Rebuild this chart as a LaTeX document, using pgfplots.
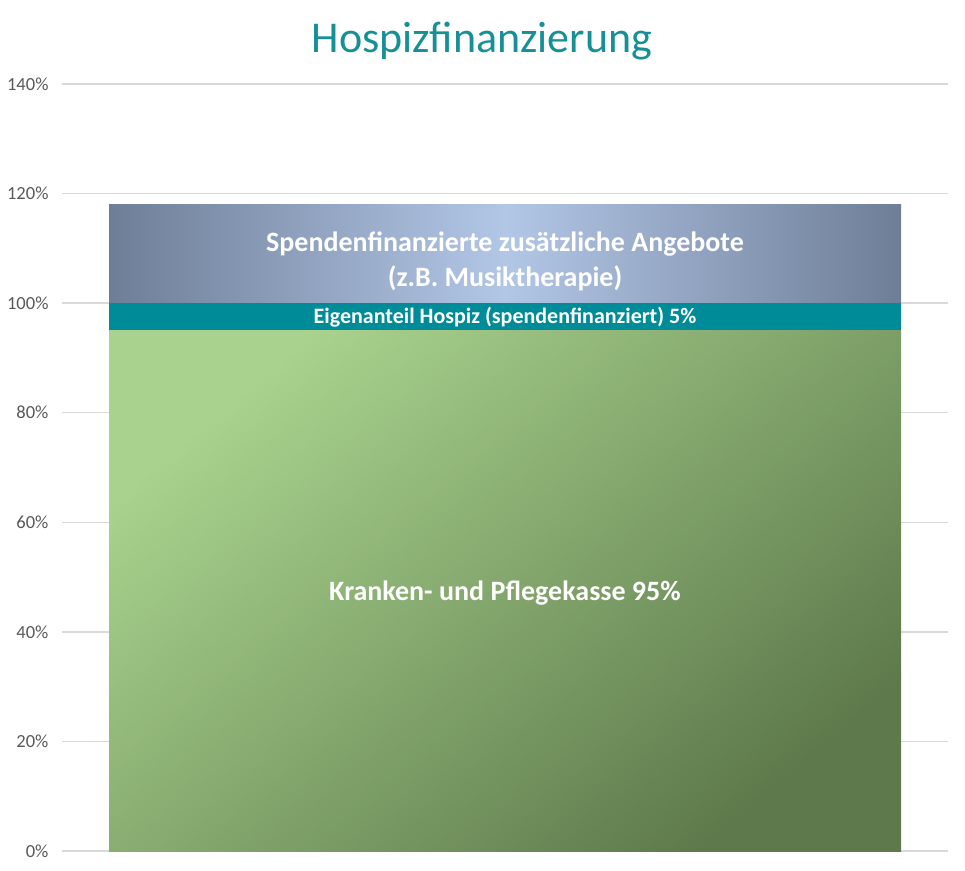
\documentclass[border=0pt]{standalone}
\usepackage{pgfplots}
\pgfplotsset{compat=1.18}
\usepackage{fontspec}
\setmainfont{Carlito}

\definecolor{titleteal}{RGB}{22,144,150}
\definecolor{gridgray}{RGB}{217,217,217}
\definecolor{ticktext}{RGB}{89,89,89}
\definecolor{greenlight}{RGB}{168,210,141}
\definecolor{greendark}{RGB}{94,122,76}
\definecolor{tealbar}{RGB}{0,139,152}
\definecolor{blueedge}{RGB}{110,126,151}
\definecolor{bluemid}{RGB}{178,198,230}

\begin{document}
\begin{tikzpicture}
\useasboundingbox (-62pt,-19pt) rectangle (903pt,851pt);
\begin{axis}[
    at={(0,0)}, anchor=south west,
    width=886pt, height=767pt, scale only axis,
    xmin=-0.5, xmax=0.5,
    ymin=0, ymax=140,
    ytick={0,20,...,140},
    xtick=\empty,
    axis line style={draw=none},
    major tick length=0pt,
    ymajorgrids,
    grid style={color=gridgray, line width=1.4pt},
    /pgf/number format/assume math mode=true,
    yticklabel={\pgfmathprintnumber{\tick}\%},
    yticklabel style={font=\fontsize{18.5}{20}\selectfont, text=ticktext, anchor=east, xshift=-10pt},
    ybar stacked, bar width=792pt,
    clip=false,
]
% Kranken- und Pflegekasse
\addplot[draw=none, top color=greenlight, bottom color=greendark, shading angle=40]
    coordinates {(0,95)};
% Eigenanteil Hospiz
\addplot[draw=none, fill=tealbar] coordinates {(0,5)};
% Spendenfinanzierte zusaetzliche Angebote
\addplot[draw=none, left color=blueedge, right color=blueedge, middle color=bluemid]
    coordinates {(0,18)};

\coordinate (lk) at (axis cs:0,47.1);
\coordinate (le) at (axis cs:0,97.4);
\coordinate (ls) at (axis cs:0,107.7);
\coordinate (lt) at (rel axis cs:0.474,1.0415);
\end{axis}
\node[white, font=\bfseries\fontsize{28}{33}\selectfont, align=center]
    at (lk) {Kranken- und Pflegekasse 95\%};
\node[white, font=\bfseries\fontsize{22}{24}\selectfont]
    at (le) {Eigenanteil Hospiz (spendenfinanziert) 5\%};
\node[white, font=\bfseries\fontsize{28}{35}\selectfont, align=center]
    at (ls) {Spendenfinanzierte zusätzliche Angebote\\(z.B. Musiktherapie)};
\node[titleteal, font=\fontsize{44}{48}\selectfont, anchor=base]
    at (lt) {Hospizfinanzierung};
\end{tikzpicture}
\end{document}
